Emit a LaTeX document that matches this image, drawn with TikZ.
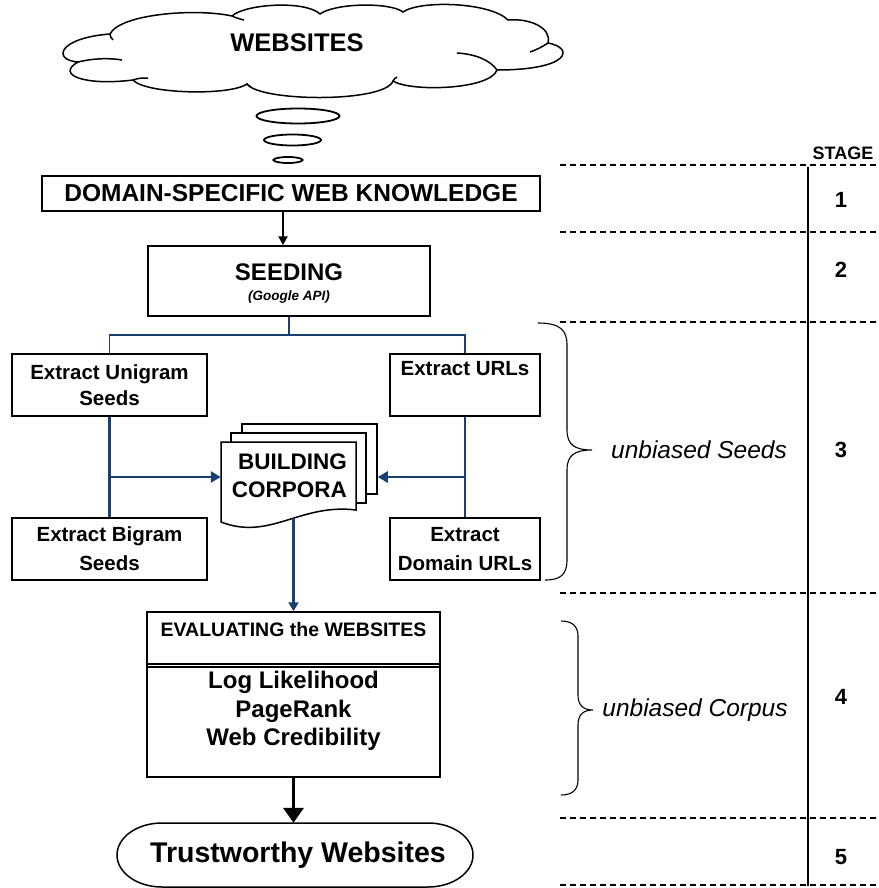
\documentclass[tikz,border=0pt]{standalone}
\usepackage{fontspec}
\setmainfont{Liberation Sans}
\usetikzlibrary{arrows.meta,calc}
\definecolor{navy}{HTML}{1B3F73}
\newcommand\setsz[2]{\fontsize{#1pt}{#2pt}\selectfont}

\begin{document}
\begin{tikzpicture}[x=1pt,y=-1pt,
  outline/.style={draw=black, line width=1.5pt},
  box/.style={outline, fill=white, inner sep=0pt, align=center},
  lbl/.style={inner sep=0pt, align=center},
  tree/.style={draw=navy, line width=1.8pt},
  flow/.style={draw=navy, line width=2.8pt, -{Triangle[length=10pt,width=11pt]}},
  drop/.style={draw=navy, line width=2.2pt, -{Triangle[length=9pt,width=10pt]}},
  down/.style={draw=black, line width=2.2pt, -{Triangle[length=9pt,width=9pt]}},
  bigdown/.style={draw=black, line width=3.5pt, -{Triangle[length=15pt,width=20pt]}},
  stagerule/.style={draw=black, dash pattern=on 6pt off 4pt, line width=1.1pt},
  brace/.style={draw=black, line width=1.1pt},
  boldtxt/.style={font=\bfseries\setsz{#1}{#1}},
]
\useasboundingbox (0,0) rectangle (878,888);

% cloud outline
\draw[outline, fill=white] (78,62)
  .. controls (52,60) and (58,38) .. (110,34)
  .. controls (120,14) and (195,8) .. (232,16)
  .. controls (245,4) and (305,0) .. (320,14)
  .. controls (335,3) and (390,2) .. (403,12)
  .. controls (420,0) and (490,2) .. (508,20)
  .. controls (530,18) and (552,28) .. (548,43)
  .. controls (575,48) and (570,70) .. (497,70)
  .. controls (490,90) and (410,92) .. (393,81)
  .. controls (385,103) and (260,102) .. (247,84)
  .. controls (230,96) and (145,94) .. (133,80)
  .. controls (85,86) and (55,75) .. (78,62) -- cycle;
% inner curls of the cloud lobes
\draw[outline] (78,62) .. controls (95,58) and (110,58) .. (122,60);
\draw[outline] (133,80) .. controls (138,78) and (143,78) .. (148,78);
\draw[outline] (247,84) .. controls (248,85) and (249,86) .. (251,87);
\draw[outline] (457,53) .. controls (475,54) and (490,60) .. (497,70);
\draw[outline] (548,43) .. controls (542,47) and (536,50) .. (530,52);
\draw[outline] (232,16) .. controls (236,18) and (240,19) .. (244,20);
\draw[outline] (110,34) .. controls (110,36) and (111,38) .. (113,40);
\draw[outline] (393,81) .. controls (394,79) and (395,78) .. (397,77);
\node[lbl, boldtxt=25.5] (web) at (297,43) {WEBSITES};

% thought bubbles
\draw[outline, line width=1.8pt] (298,116) ellipse[x radius=41.5, y radius=7.5];
\draw[outline, line width=1.8pt] (292.5,140) ellipse[x radius=28.5, y radius=5.5];
\draw[outline, line width=1.8pt] (288,160) ellipse[x radius=14.5, y radius=3];

% stage 1 and 2
\node[box, minimum width=498pt, minimum height=35pt, boldtxt=24.5] (dom) at (291,193.5) {DOMAIN-SPECIFIC WEB KNOWLEDGE};
\node[box, minimum width=282pt, minimum height=70pt] (seed) at (289,281) {};
\node[lbl, boldtxt=24] (seedt) at (289,272) {SEEDING};
\node[lbl, font=\bfseries\itshape\setsz{13.5}{15}] (seedg) at (289,297) {(Google API)};
\coordinate (ax) at (283,0);
\draw[down] (ax |- dom.south) -- (ax |- seed.north);

% stage 3: seed extraction
\node[box, minimum width=195pt, minimum height=62pt, font=\bfseries\setsz{20.5}{26}] (uni) at (109.5,385) {Extract Unigram\\Seeds};
\node[box, minimum width=150pt, minimum height=62pt, font=\bfseries\setsz{20.5}{26}] (url) at (465,385) {Extract URLs\\\strut};
\node[box, minimum width=195pt, minimum height=62pt, font=\bfseries\setsz{20.5}{29}] (bi) at (109.5,549) {Extract Bigram\\Seeds};
\node[box, minimum width=150pt, minimum height=62pt, font=\bfseries\setsz{20.5}{29}] (durl) at (465,549) {Extract\\Domain URLs};

\coordinate (bus) at (0,335);
\draw[tree] (seed.south) -- (seed.south |- bus);
\draw[tree] (uni.north) |- (seed.south |- bus) -| (url.north);
\draw[tree, line width=2.2pt] (uni.south) -- (bi.north);
\draw[tree, line width=2.2pt] (url.south) -- (durl.north);

% corpus document stack
\node[box, minimum width=135pt, minimum height=70pt] (back) at (309.5,459) {};
\node[box, minimum width=135pt, minimum height=70pt] (mid) at (298.5,468) {};
\node[inner sep=0pt, minimum width=135pt, minimum height=70pt] (corp) at (288.5,477) {};
\draw[outline, fill=white] (221,442) -- (356,442) -- (356,510)
  .. controls (300,503) and (270,541) .. (221,522) -- cycle;
\node[lbl, align=right, anchor=east, font=\bfseries\setsz{22.5}{28}] (corpt) at (347,476) {BUILDING\\CORPORA};
\coordinate (wave) at (293.5,518);

\draw[flow] (uni.south |- corp.west) -- (corp.west);
\draw[flow] (url.south |- corp.center) -- (back.east |- corp.center);

% stage 4: evaluation
\node[box, minimum width=293pt, minimum height=165pt] (eval) at (293.5,694.5) {};
\coordinate (sepa) at (0,664);
\coordinate (sepb) at (0,667);
\draw[outline, line width=1.1pt] (eval.west |- sepa) -- (eval.east |- sepa);
\draw[outline, line width=1.1pt] (eval.west |- sepb) -- (eval.east |- sepb);
\node[lbl, boldtxt=19.5] (evalt) at (293.5,630) {EVALUATING the WEBSITES};
\node[lbl, font=\bfseries\setsz{24}{28.5}] (evalm) at (293.5,711) {Log Likelihood\\PageRank\\Web Credibility};
\draw[drop] (wave) -- (eval.north);

% stage 5: result
\draw[outline, fill=white] (162,823) -- (428,823)
  arc[start angle=-90, end angle=90, x radius=45, y radius=32]
  -- (162,887)
  arc[start angle=90, end angle=270, x radius=45, y radius=32] -- cycle;
\node[lbl, minimum width=356pt, minimum height=64pt, boldtxt=28.5] (trust) at (298,855) {Trustworthy Websites};
\draw[bigdown] (eval.south) -- (eval.south |- trust.north);

% stage column
\foreach \yy in {165,232,322,593,818,885}
  \draw[stagerule] (560,\yy) -- (878,\yy);
\draw[line width=2.2pt] (808,167) -- (808,886);
\node[lbl, font=\bfseries\setsz{18}{20}] (stg) at (843,153) {STAGE};
\node[lbl, boldtxt=22] (s1) at (841,200) {1};
\node[lbl, boldtxt=22] (s2) at (841,270) {2};
\node[lbl, boldtxt=22] (s3) at (841,450) {3};
\node[lbl, boldtxt=22] (s4) at (841,697) {4};
\node[lbl, boldtxt=22] (s5) at (841,857) {5};

% braces with their notes
\draw[brace] (538,323) .. controls (560,323) and (567,330) .. (567,345)
  -- (567,430) .. controls (567,445) and (575,450) .. (592,450)
  .. controls (575,450) and (567,455) .. (567,470)
  -- (567,560) .. controls (567,575) and (560,580) .. (545,580);
\draw[brace] (561,621) .. controls (572,621) and (578,626) .. (578,636)
  -- (578,695) .. controls (578,705) and (583,710) .. (593,710)
  .. controls (583,710) and (578,715) .. (578,725)
  -- (578,780) .. controls (578,790) and (572,795) .. (561,795);
\node[lbl, font=\itshape\setsz{24.5}{26}] (nseeds) at (699,450) {unbiased Seeds};
\node[lbl, font=\itshape\setsz{24.5}{26}] (ncorp) at (695,710) {unbiased Corpus};
\end{tikzpicture}
\end{document}
